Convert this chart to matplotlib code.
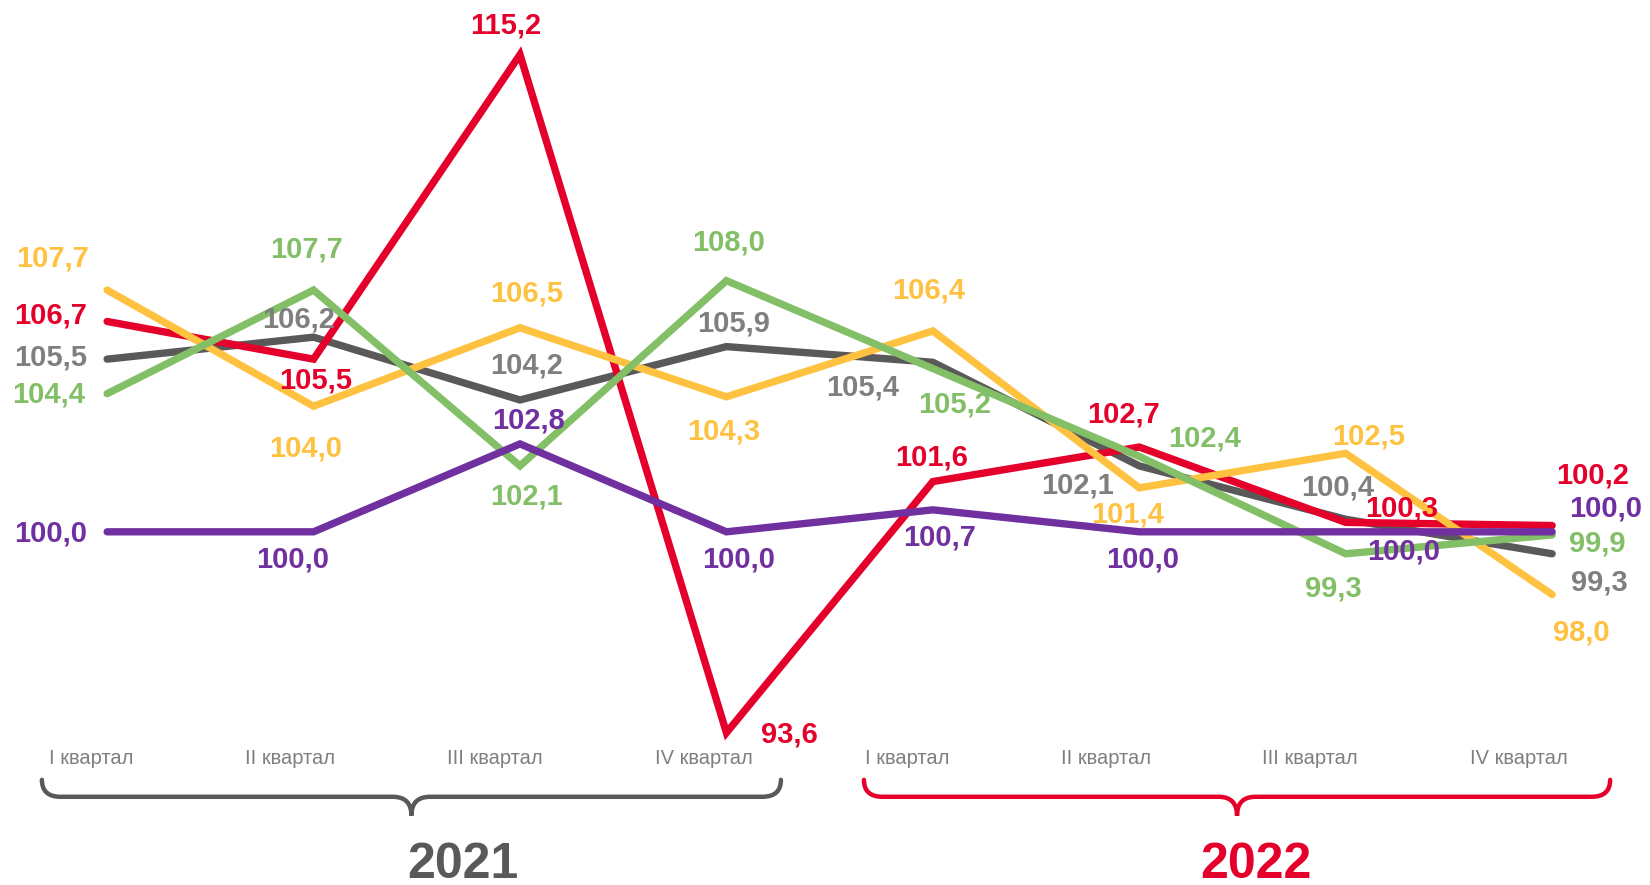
import matplotlib
matplotlib.use("Agg")
import matplotlib.pyplot as plt
from matplotlib.path import Path
from matplotlib.patches import PathPatch

plt.rcParams['font.family'] = ['Liberation Sans', 'DejaVu Sans']

# data
quarters = ["I квартал", "II квартал", "III квартал", "IV квартал",
            "I квартал", "II квартал", "III квартал", "IV квартал"]
red_vals = [106.7, 105.5, 115.2, 93.6, 101.6, 102.7, 100.3, 100.2]
gray_vals = [105.5, 106.2, 104.2, 105.9, 105.4, 102.1, 100.4, 99.3]
yellow_vals = [107.7, 104.0, 106.5, 104.3, 106.4, 101.4, 102.5, 98.0]
green_vals = [104.4, 107.7, 102.1, 108.0, 105.2, 102.4, 99.3, 99.9]
purple_vals = [100.0, 100.0, 102.8, 100.0, 100.7, 100.0, 100.0, 100.0]
years = ["2021", "2022"]

# label offsets (px, x right / y down)
red_off = [(-54, -8), (2, 18), (-14, -30), (60, 0), (-1, -25), (-15, -33), (53, -15), (38, -50)]
gray_off = [(-54, -4), (-14, -19), (6, -35), (7, -24), (-67, 22), (-59, 17), (-8, -32), (45, 25)]
yellow_off = [(-52, -32), (-8, 38), (6, -35), (-3, 31), (-4, -40), (-11, 23), (22, -18), (28, 34)]
green_off = [(-56, -1), (-7, -41), (6, 27), (2, -38), (21, 32), (62, -19), (-12, 31), (43, 6)]
purple_off = [(-54, 0), (-20, 24), (8, -24), (12, 24), (6, 24), (3, 24), (55, 17), (51, -24)]
quarter_dx = [-15, -22, -24, -21, -24, -32, -34, -32]

RED = "#E4002B"
GRAY = "#595959"
GRAY_TXT = "#7F7F7F"
YELLOW = "#FFC240"
GREEN = "#82BF66"
PURPLE = "#7030A0"

S = 1650 / 1570.0

fig = plt.figure(figsize=(16.5, 8.85), dpi=100)
ax = fig.add_axes([0, 0, 1, 1])
ax.set_xlim(-0.519, 7.474)
ax.set_ylim(88.75, 116.94)
ax.axis("off")

x = list(range(len(quarters)))
series = [
    (gray_vals, GRAY, GRAY_TXT, gray_off),
    (red_vals, RED, RED, red_off),
    (yellow_vals, YELLOW, YELLOW, yellow_off),
    (green_vals, GREEN, GREEN, green_off),
    (purple_vals, PURPLE, PURPLE, purple_off),
]
for vals, col, tcol, offs in series:
    ax.plot(x, vals, color=col, lw=5.3, solid_capstyle="round", solid_joinstyle="miter", zorder=2)
for vals, col, tcol, offs in series:
    for i, v in enumerate(vals):
        dx, dy = offs[i]
        ax.annotate(f"{v:.1f}".replace(".", ","), (i, v), xytext=(dx * S, -(dy + 2) * S),
                    textcoords="offset pixels", ha="center", va="center",
                    fontsize=21, fontweight="bold", color=tcol, zorder=5)

# quarter labels
for i, q in enumerate(quarters):
    ax.annotate(q, (i, 92.84), xytext=(quarter_dx[i] * S, -2 * S), textcoords="offset pixels",
                ha="center", va="center", fontsize=14.5, color=GRAY_TXT, annotation_clip=False)


def brace(xa, xb, col):
    xm = (xa + xb) / 2
    rx, top, line, tip = 0.09, 92.10, 91.56, 90.96
    verts = [(xa, top), (xa, line), (xa + rx, line),
             (xm - rx, line), (xm, line), (xm, tip),
             (xm, line), (xm + rx, line),
             (xb - rx, line), (xb, line), (xb, top)]
    codes = [Path.MOVETO, Path.CURVE3, Path.CURVE3,
             Path.LINETO, Path.CURVE3, Path.CURVE3,
             Path.CURVE3, Path.CURVE3,
             Path.LINETO, Path.CURVE3, Path.CURVE3]
    ax.add_patch(PathPatch(Path(verts, codes), fill=False, edgecolor=col, lw=3.2,
                           capstyle="round", clip_on=False))
    return xm


m1 = brace(-0.316, 3.264, GRAY)
m2 = brace(3.666, 7.281, RED)
ax.text(m1 + 0.25, 89.38, years[0], ha="center", va="center", fontsize=36, fontweight="bold", color=GRAY)
ax.text(m2 + 0.09, 89.38, years[1], ha="center", va="center", fontsize=36, fontweight="bold", color=RED)

fig.savefig("out.png", dpi=100, facecolor="white")
